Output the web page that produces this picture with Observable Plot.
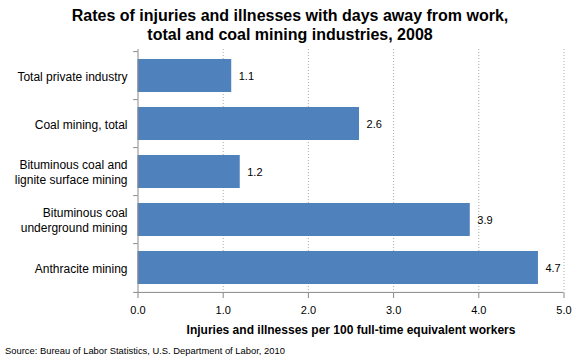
<!DOCTYPE html>
<html>
<head>
<meta charset="utf-8">
<script src="https://cdn.jsdelivr.net/npm/d3@7"></script>
<script src="https://cdn.jsdelivr.net/npm/@observablehq/plot@0.6"></script>
<style>
  html, body { margin: 0; padding: 0; background: #fff; }
  body { width: 580px; height: 360px; position: relative; overflow: hidden; font-family: "Liberation Sans", Arial, sans-serif; }
  #title { position: absolute; left: 0; top: 6px; width: 580px; text-align: center; font-weight: bold; font-size: 16px; line-height: 19px; color: #000; }
  #chart { position: absolute; left: 0; top: 44px; }
  #source { position: absolute; left: 5px; top: 345px; font-size: 9.4px; color: #000; }
</style>
</head>
<body>
<div id="title">Rates of injuries and illnesses with days away from work,<br>total and coal mining industries, 2008</div>
<div id="chart"></div>
<div id="source">Source: Bureau of Labor Statistics, U.S. Department of Labor, 2010</div>
<script>
const categories = [
  "Total private industry",
  "Coal mining, total",
  "Bituminous coal and\nlignite surface mining",
  "Bituminous coal\nunderground mining",
  "Anthracite mining"
];
const values = [1.1, 2.6, 1.2, 3.9, 4.7];
const xTicks = [0, 1, 2, 3, 4, 5];
const xLabel = "Injuries and illnesses per 100 full-time equivalent workers";

const data = categories.map((c, i) => ({category: c, value: values[i]}));

const W = 580, H = 300;
const mL = 137.5, mR = 16.5, mT = 5, mB = 51;
const step = (H - mT - mB) / categories.length;
const font = "Liberation Sans, Arial, sans-serif";

const chart = Plot.plot({
  width: W,
  height: H,
  marginLeft: mL,
  marginRight: mR,
  marginTop: mT,
  marginBottom: mB,
  style: {fontFamily: font, background: "#fff", color: "#000"},
  x: {domain: [0, 5]},
  y: {domain: categories, paddingInner: 0.32, paddingOuter: 0.16, axis: null},
  marks: [
    Plot.gridX(xTicks.filter(d => d > 0), {stroke: "#aaa", strokeOpacity: 1, strokeDasharray: "1,2"}),
    Plot.barX(data, {y: "category", x: "value", fill: "#4f81bd"}),
    Plot.text(data, {y: "category", x: "value", text: d => d.value.toFixed(1), textAnchor: "start", dx: 7, fontSize: 11, fill: "#000"}),
    Plot.text(data, {y: "category", text: "category", frameAnchor: "left", textAnchor: "end", dx: -10.5, fontSize: 12, lineHeight: 1.2, fill: "#000"}),
    Plot.ruleY(categories, {y: d => d, x1: -4.3 / 85.2, x2: 0, dy: -step / 2, stroke: "#888"}),
    Plot.ruleY([categories[categories.length - 1]], {y: d => d, x1: -4.3 / 85.2, x2: 0, dy: step / 2, stroke: "#888"}),
    Plot.ruleX([0], {stroke: "#888"}),
    Plot.axisX({ticks: xTicks, tickFormat: d => d.toFixed(1), tickSize: 5, tickPadding: 8, fontSize: 11, stroke: "#888", fill: "#000", label: null}),
    Plot.ruleY([categories[categories.length - 1]], {y: d => d, x1: 0, x2: 5, dy: step / 2, stroke: "#888"}),
    Plot.text([xLabel], {frameAnchor: "bottom", dy: 40, fontSize: 12, fontWeight: "bold", fill: "#000"})
  ]
});
document.getElementById("chart").appendChild(chart);
</script>
</body>
</html>
